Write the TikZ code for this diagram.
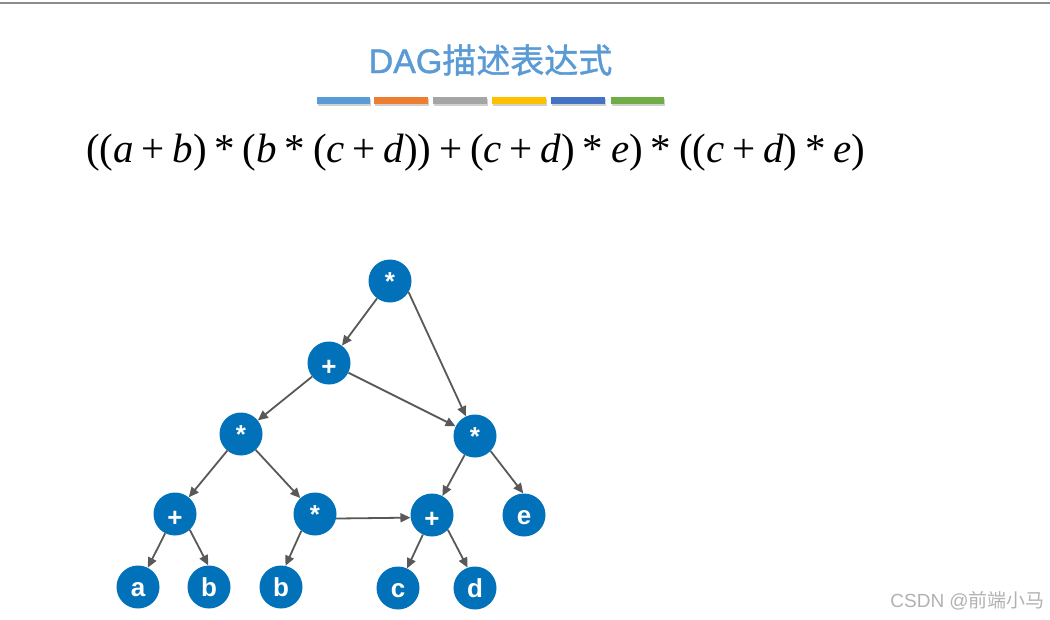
\documentclass[tikz,border=0pt]{standalone}
\usepackage{fontspec}
\setmainfont{Liberation Serif}
\newfontfamily\sansf{Liberation Sans}
\newfontfamily\sansb{Liberation Sans Bold}
\newfontfamily\titlesans[FakeBold=1.2]{Liberation Sans}
\newfontfamily\titlecjk[FakeBold=1.2]{Noto Sans CJK SC}
\newfontfamily\cjkf{Noto Sans CJK SC}
\usetikzlibrary{arrows.meta}
\definecolor{nodeblue}{RGB}{1,114,186}
\definecolor{edgegray}{RGB}{89,89,89}
\definecolor{titleblue}{RGB}{91,155,213}
\definecolor{barA}{RGB}{91,155,213}
\definecolor{barB}{RGB}{237,125,49}
\definecolor{barC}{RGB}{165,165,165}
\definecolor{barD}{RGB}{255,192,0}
\definecolor{barE}{RGB}{68,114,196}
\definecolor{barF}{RGB}{112,173,71}
\definecolor{wmgray}{RGB}{178,178,178}
\definecolor{topgray}{RGB}{140,140,140}
\newcommand\fop[1]{\hspace{0.19em}#1\hspace{0.19em}}
\newcommand\lowplus{\raisebox{-3pt}{+}}
\begin{document}
\begin{tikzpicture}[x=1pt,y=-1pt,
  vnode/.style={circle, fill=nodeblue, minimum size=43pt, inner sep=0pt, text=white,
    font=\sansb\fontsize{26}{26}\selectfont, text height=18.8pt, text depth=0pt},
  edge/.style={draw=edgegray, line width=1.8pt, -{Triangle[length=10pt,width=9pt]}}]
\useasboundingbox (0,0) rectangle (1050,619);
\fill[white] (0,0) rectangle (1050,619);
\draw[topgray, line width=1.5pt] (0,2.8) -- (1050,2.8);
% title
\node[anchor=base, text=titleblue, font=\fontsize{34}{34}\selectfont, inner sep=0pt] (title) at (490.5,73) {{\titlesans DAG}{\titlecjk 描述表达式}};
% colour bars
\foreach \xa/\xb/\c in {317/370/barA, 374/428/barB, 433/487/barC, 492/546/barD, 551/605/barE, 611/664/barF}{
  \fill[black!18] (\xa+1,99) rectangle (\xb+1,106);
  \fill[\c] (\xa,97) rectangle (\xb,104);
}
% formula
\node[anchor=base west, inner sep=0pt, font=\fontsize{41}{41}\selectfont] (formula) at (86,162)
 {((\textit{a}\fop+\textit{b})\fop*(\textit{b}\fop*(\textit{c}\fop+\textit{d}))\fop+(\textit{c}\fop+\textit{d})\fop*\textit{e})\fop*((\textit{c}\fop+\textit{d})\fop*\textit{e})};
% nodes
\node[vnode] (root)  at (390,281) {*};
\node[vnode] (plus1) at (329,363) {\lowplus};
\node[vnode] (lstar) at (241,434) {*};
\node[vnode] (rstar) at (475,436) {*};
\node[vnode] (lplus) at (175,514) {\lowplus};
\node[vnode] (mstar) at (315,514) {*};
\node[vnode] (rplus) at (432,515) {\lowplus};
\node[vnode] (e)     at (524,515) {e};
\node[vnode] (a)     at (138,587) {a};
\node[vnode] (b1)    at (209,587) {b};
\node[vnode] (b2)    at (281,587) {b};
\node[vnode] (c)     at (398,588) {c};
\node[vnode] (d)     at (475,588) {d};
% edges
\draw[edge] (root) -- (plus1);
\draw[edge] (root.-31) -- (rstar);
\draw[edge] (plus1) -- (lstar);
\draw[edge] (plus1) -- (rstar);
\draw[edge] (lstar) -- (lplus);
\draw[edge] (lstar) -- (mstar);
\draw[edge] (mstar.-12) -- (rplus.187);
\draw[edge] (rstar) -- (rplus);
\draw[edge] (rstar.-44) -- (e.92);
\draw[edge] (lplus) -- (a);
\draw[edge] (lplus.-47) -- (b1.92);
\draw[edge] (mstar.231) -- (b2.78);
\draw[edge] (rplus) -- (c);
\draw[edge] (rplus.-43) -- (d.110);
% watermark
\node[anchor=base east, text=wmgray, font=\sansf\fontsize{19}{19}\selectfont, inner sep=0pt] (wm) at (1045,607) {CSDN @{\cjkf 前端小马}};
\end{tikzpicture}
\end{document}
